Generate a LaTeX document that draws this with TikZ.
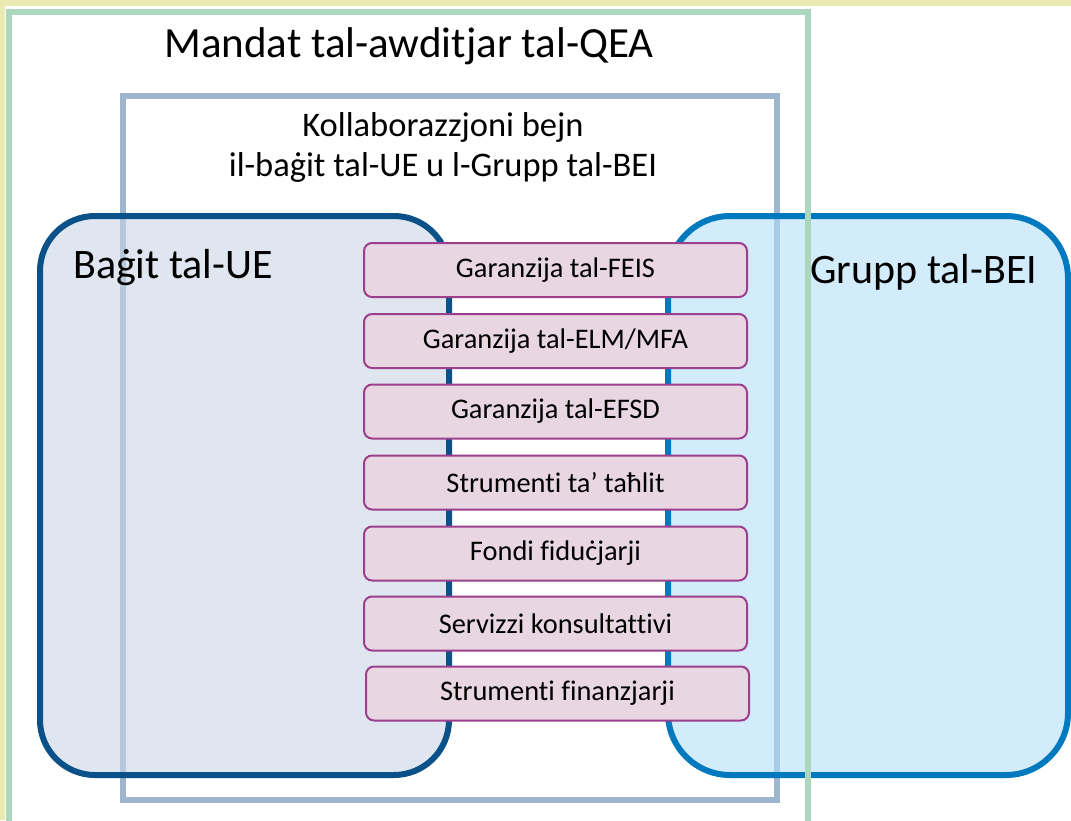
\documentclass[tikz,border=0pt]{standalone}
\usepackage{fontspec}
\setmainfont{Carlito}[Ligatures={NoCommon}]
\definecolor{bgyellow}{HTML}{EAE9B1}
\definecolor{framegreen}{HTML}{ADD6BE}
\definecolor{framegray}{HTML}{9DB5CD}
\definecolor{euborder}{HTML}{0B5189}
\definecolor{eufill}{RGB}{202,214,230}
\definecolor{beiborder}{HTML}{0079BF}
\definecolor{beifill}{RGB}{178,223,251}
\definecolor{purpfill}{HTML}{E8D6E3}
\definecolor{purpborder}{HTML}{9C3F8C}
\tikzset{
  itembox/.style={draw=purpborder, fill=purpfill, line width=2pt, rounded corners=8pt,
    minimum width=383pt, minimum height=54pt, inner sep=0pt,
    font=\fontsize{28.4}{32}\selectfont},
  bigframe/.style={line width=6pt},
}
\begin{document}
\begin{tikzpicture}[x=1pt,y=-1pt]
\useasboundingbox (0,0) rectangle (1071,820);
\fill[white] (0,0) rectangle (1071,820);
\fill[bgyellow] (0,0) rectangle (1071,6);
\fill[bgyellow] (0,0) rectangle (4.5,820);
% collaboration frame
\draw[bigframe, draw=framegray] (123,96) rectangle (777,800);
% EU budget box
\filldraw[bigframe, draw=euborder, fill=eufill, fill opacity=0.6, rounded corners=55pt] (40,216) rectangle (449,775);
% EIB group box
\filldraw[bigframe, draw=beiborder, fill=beifill, fill opacity=0.57, rounded corners=62pt] (668,216) rectangle (1068,775);
% ECA mandate frame
\draw[bigframe, draw=framegreen] (9,830) -- (9,11.5) -- (808,11.5) -- (808,830);
% titles
\node[font=\fontsize{43}{50}\selectfont] (title) at (409,46) {Mandat tal-awditjar tal-QEA};
\node[font=\fontsize{34.5}{37.5}\selectfont, align=center] (collab) at (443,147.5) {Kollaborazzjoni bejn\\[3pt]il-baġit tal-UE u l-Grupp tal-BEI};
\node[font=\fontsize{42}{48}\selectfont, anchor=west, inner sep=0pt] (eu) at (73,268) {Baġit tal-UE};
\node[font=\fontsize{42}{48}\selectfont, anchor=west, inner sep=0pt] (bei) at (810,272) {Grupp tal-BEI};
% items
\node[itembox] (b1) at (555.5,270) {Garanzija tal-FEIS};
\node[itembox] (b2) at (555.5,341) {Garanzija tal-ELM/MFA};
\node[itembox] (b3) at (555.5,411.5) {Garanzija tal-EFSD};
\node[itembox] (b4) at (555.5,482.5) {Strumenti ta’ taħlit};
\node[itembox] (b5) at (555.5,553.5) {Fondi fiduċjarji};
\node[itembox] (b6) at (555.5,623.5) {Servizzi konsultattivi};
\node[itembox] (b7) at (557.5,693.5) {Strumenti finanzjarji};
\end{tikzpicture}
\end{document}
